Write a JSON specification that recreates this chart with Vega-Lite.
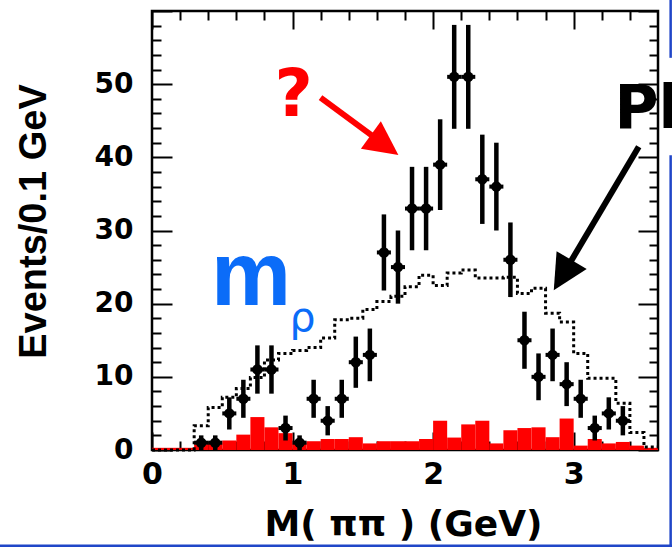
{
  "$schema": "https://vega.github.io/schema/vega-lite/v6.json",
  "width": 506,
  "height": 439,
  "autosize": {"type": "none"},
  "padding": {"left": 152, "top": 11, "right": 14, "bottom": 97},
  "background": "white",
  "config": {
    "view": {"stroke": "black", "strokeWidth": 2.5},
    "axis": {
      "domain": false,
      "grid": false,
      "tickColor": "black",
      "tickWidth": 2,
      "labelFont": "DejaVu Sans",
      "labelFontWeight": "bold",
      "labelColor": "black",
      "labelFlush": false,
      "labelOverlap": false
    }
  },
  "datasets": {
    "background": [
      {"lo": 0.0, "hi": 0.1, "bkg": 0.3}, {"lo": 0.1, "hi": 0.2, "bkg": 0.3},
      {"lo": 0.2, "hi": 0.3, "bkg": 0.3}, {"lo": 0.3, "hi": 0.4, "bkg": 0.8},
      {"lo": 0.4, "hi": 0.5, "bkg": 1.0}, {"lo": 0.5, "hi": 0.6, "bkg": 1.3},
      {"lo": 0.6, "hi": 0.7, "bkg": 2.1}, {"lo": 0.7, "hi": 0.8, "bkg": 4.5},
      {"lo": 0.8, "hi": 0.9, "bkg": 3.1}, {"lo": 0.9, "hi": 1.0, "bkg": 2.3},
      {"lo": 1.0, "hi": 1.1, "bkg": 1.0}, {"lo": 1.1, "hi": 1.2, "bkg": 1.2},
      {"lo": 1.2, "hi": 1.3, "bkg": 1.5}, {"lo": 1.3, "hi": 1.4, "bkg": 1.5},
      {"lo": 1.4, "hi": 1.5, "bkg": 1.75}, {"lo": 1.5, "hi": 1.6, "bkg": 0.9},
      {"lo": 1.6, "hi": 1.7, "bkg": 1.2}, {"lo": 1.7, "hi": 1.8, "bkg": 1.2},
      {"lo": 1.8, "hi": 1.9, "bkg": 1.2}, {"lo": 1.9, "hi": 2.0, "bkg": 1.5},
      {"lo": 2.0, "hi": 2.1, "bkg": 4.0}, {"lo": 2.1, "hi": 2.2, "bkg": 1.7},
      {"lo": 2.2, "hi": 2.3, "bkg": 3.5}, {"lo": 2.3, "hi": 2.4, "bkg": 4.0},
      {"lo": 2.4, "hi": 2.5, "bkg": 0.9}, {"lo": 2.5, "hi": 2.6, "bkg": 2.7},
      {"lo": 2.6, "hi": 2.7, "bkg": 3.0}, {"lo": 2.7, "hi": 2.8, "bkg": 3.1},
      {"lo": 2.8, "hi": 2.9, "bkg": 1.75}, {"lo": 2.9, "hi": 3.0, "bkg": 4.3},
      {"lo": 3.0, "hi": 3.1, "bkg": 0.6}, {"lo": 3.1, "hi": 3.2, "bkg": 1.5},
      {"lo": 3.2, "hi": 3.3, "bkg": 0.9}, {"lo": 3.3, "hi": 3.4, "bkg": 1.1},
      {"lo": 3.4, "hi": 3.5, "bkg": 0.6}, {"lo": 3.5, "hi": 3.6, "bkg": 0.3}
    ],
    "phasespace": [
      {"edge": 0.0, "mc": 0}, {"edge": 0.1, "mc": 0}, {"edge": 0.2, "mc": 0},
      {"edge": 0.3, "mc": 3.3}, {"edge": 0.4, "mc": 5.8}, {"edge": 0.5, "mc": 7.2},
      {"edge": 0.6, "mc": 8.4}, {"edge": 0.7, "mc": 9.9}, {"edge": 0.8, "mc": 12.3},
      {"edge": 0.9, "mc": 13.2}, {"edge": 1.0, "mc": 13.6}, {"edge": 1.1, "mc": 14.0},
      {"edge": 1.2, "mc": 15.3}, {"edge": 1.3, "mc": 17.8}, {"edge": 1.4, "mc": 18.0},
      {"edge": 1.5, "mc": 19.2}, {"edge": 1.6, "mc": 20.3}, {"edge": 1.7, "mc": 21.0},
      {"edge": 1.8, "mc": 22.3}, {"edge": 1.9, "mc": 23.9}, {"edge": 2.0, "mc": 22.5},
      {"edge": 2.1, "mc": 24.2}, {"edge": 2.2, "mc": 24.6}, {"edge": 2.3, "mc": 23.5},
      {"edge": 2.4, "mc": 23.5}, {"edge": 2.5, "mc": 23.6}, {"edge": 2.6, "mc": 21.4},
      {"edge": 2.7, "mc": 22.1}, {"edge": 2.8, "mc": 18.7}, {"edge": 2.9, "mc": 17.5},
      {"edge": 3.0, "mc": 13.2}, {"edge": 3.1, "mc": 9.8}, {"edge": 3.2, "mc": 9.8},
      {"edge": 3.3, "mc": 6.4}, {"edge": 3.4, "mc": 2.4}, {"edge": 3.5, "mc": 0.4},
      {"edge": 3.6, "mc": 0.4}
    ],
    "events": [
      {"m": 0.35, "lo": 0.3, "hi": 0.4, "n": 1, "ylo": 0, "yhi": 2},
      {"m": 0.45, "lo": 0.4, "hi": 0.5, "n": 1, "ylo": 0, "yhi": 2},
      {"m": 0.55, "lo": 0.5, "hi": 0.6, "n": 5, "ylo": 2.8, "yhi": 7.2},
      {"m": 0.65, "lo": 0.6, "hi": 0.7, "n": 7, "ylo": 4.4, "yhi": 9.6},
      {"m": 0.75, "lo": 0.7, "hi": 0.8, "n": 11, "ylo": 7.7, "yhi": 14.3},
      {"m": 0.85, "lo": 0.8, "hi": 0.9, "n": 11, "ylo": 7.7, "yhi": 14.3},
      {"m": 0.95, "lo": 0.9, "hi": 1.0, "n": 3, "ylo": 1.3, "yhi": 4.7},
      {"m": 1.05, "lo": 1.0, "hi": 1.1, "n": 1, "ylo": 0, "yhi": 2},
      {"m": 1.15, "lo": 1.1, "hi": 1.2, "n": 7, "ylo": 4.4, "yhi": 9.6},
      {"m": 1.25, "lo": 1.2, "hi": 1.3, "n": 4, "ylo": 2, "yhi": 6},
      {"m": 1.35, "lo": 1.3, "hi": 1.4, "n": 7, "ylo": 4.4, "yhi": 9.6},
      {"m": 1.45, "lo": 1.4, "hi": 1.5, "n": 12, "ylo": 8.5, "yhi": 15.5},
      {"m": 1.55, "lo": 1.5, "hi": 1.6, "n": 13, "ylo": 9.4, "yhi": 16.6},
      {"m": 1.65, "lo": 1.6, "hi": 1.7, "n": 27, "ylo": 21.8, "yhi": 32.2},
      {"m": 1.75, "lo": 1.7, "hi": 1.8, "n": 25, "ylo": 20, "yhi": 30},
      {"m": 1.85, "lo": 1.8, "hi": 1.9, "n": 33, "ylo": 27.3, "yhi": 38.7},
      {"m": 1.95, "lo": 1.9, "hi": 2.0, "n": 33, "ylo": 27.3, "yhi": 38.7},
      {"m": 2.05, "lo": 2.0, "hi": 2.1, "n": 39, "ylo": 32.8, "yhi": 45.2},
      {"m": 2.15, "lo": 2.1, "hi": 2.2, "n": 51, "ylo": 43.9, "yhi": 58.1},
      {"m": 2.25, "lo": 2.2, "hi": 2.3, "n": 51, "ylo": 43.9, "yhi": 58.1},
      {"m": 2.35, "lo": 2.3, "hi": 2.4, "n": 37, "ylo": 30.9, "yhi": 43.1},
      {"m": 2.45, "lo": 2.4, "hi": 2.5, "n": 36, "ylo": 30, "yhi": 42},
      {"m": 2.55, "lo": 2.5, "hi": 2.6, "n": 26, "ylo": 20.9, "yhi": 31.1},
      {"m": 2.65, "lo": 2.6, "hi": 2.7, "n": 15, "ylo": 11.1, "yhi": 18.9},
      {"m": 2.75, "lo": 2.7, "hi": 2.8, "n": 10, "ylo": 6.8, "yhi": 13.2},
      {"m": 2.85, "lo": 2.8, "hi": 2.9, "n": 13, "ylo": 9.4, "yhi": 16.6},
      {"m": 2.95, "lo": 2.9, "hi": 3.0, "n": 9, "ylo": 6, "yhi": 12},
      {"m": 3.05, "lo": 3.0, "hi": 3.1, "n": 7, "ylo": 4.4, "yhi": 9.6},
      {"m": 3.15, "lo": 3.1, "hi": 3.2, "n": 3, "ylo": 1.3, "yhi": 4.7},
      {"m": 3.25, "lo": 3.2, "hi": 3.3, "n": 5, "ylo": 2.8, "yhi": 7.2},
      {"m": 3.35, "lo": 3.3, "hi": 3.4, "n": 4, "ylo": 2, "yhi": 6}
    ],
    "arrows": [
      {"name": "question", "x0": 1.199, "y0": 48.15, "xh": 1.655, "yh": 41.7},
      {"name": "phase space", "x0": 3.463, "y0": 41.44, "xh": 2.922, "yh": 23.9}
    ],
    "slide": [
      {"x0": -1.1, "y0": -13.1, "x1": 3.72, "y1": -13.1},
      {"x0": 3.69, "y0": 61.6, "x1": 3.69, "y1": 53.6},
      {"x0": 3.69, "y0": 40.3, "x1": 3.69, "y1": -13.1}
    ]
  },
  "resolve": {"axis": {"x": "independent", "y": "independent"}},
  "layer": [
    {
      "data": {"name": "background"},
      "mark": {"type": "rect", "color": "#ff0000"},
      "encoding": {
        "x": {
          "field": "lo", "type": "quantitative",
          "scale": {"domain": [0, 3.6], "nice": false, "zero": false},
          "axis": {
            "orient": "bottom", "values": [0, 1, 2, 3], "ticks": false,
            "labelPadding": 9, "labelFontSize": 30, "labelBaseline": "top",
            "title": "M( ππ ) (GeV)", "titleFont": "DejaVu Sans", "titleFontWeight": "bold",
            "titleFontSize": 36, "titleColor": "black", "titleX": 251, "titleY": 85,
            "titleBaseline": "alphabetic", "titleAlign": "center"
          }
        },
        "x2": {"field": "hi"},
        "y": {
          "field": "bkg", "type": "quantitative",
          "scale": {"domain": [0, 60], "nice": false},
          "axis": {
            "orient": "left", "values": [0, 10, 20, 30, 40, 50], "ticks": false,
            "labelPadding": 19, "labelFontSize": 28, "labelBaseline": "middle",
            "title": "Events/0.1 GeV", "titleFont": "Liberation Sans", "titleFontWeight": "bold",
            "titleFontSize": 38, "titleColor": "black", "titleAngle": 270,
            "titleX": -107, "titleY": 210, "titleBaseline": "alphabetic", "titleAlign": "center"
          }
        },
        "y2": {"datum": 0}
      }
    },
    {
      "data": {"name": "phasespace"},
      "mark": {"type": "line", "interpolate": "step-after", "color": "black", "strokeWidth": 3, "strokeDash": [3, 3]},
      "encoding": {
        "x": {
          "field": "edge", "type": "quantitative",
          "axis": {"orient": "bottom", "values": [0, 1, 2, 3], "tickSize": -18, "labels": false, "title": null}
        },
        "y": {
          "field": "mc", "type": "quantitative",
          "axis": {"orient": "left", "values": [0, 10, 20, 30, 40, 50, 60], "tickSize": -20, "labels": false, "title": null}
        }
      }
    },
    {
      "data": {"name": "events"},
      "mark": {"type": "rule", "color": "black", "strokeWidth": 4.5},
      "encoding": {
        "x": {
          "field": "m", "type": "quantitative",
          "axis": {"orient": "bottom", "values": [0.2, 0.4, 0.6, 0.8, 1.2, 1.4, 1.6, 1.8, 2.2, 2.4, 2.6, 2.8, 3.2, 3.4], "tickSize": -9, "labels": false, "title": null}
        },
        "y": {
          "field": "ylo", "type": "quantitative",
          "axis": {"orient": "left", "values": [2, 4, 6, 8, 12, 14, 16, 18, 22, 24, 26, 28, 32, 34, 36, 38, 42, 44, 46, 48, 52, 54, 56, 58], "tickSize": -9, "labels": false, "title": null}
        },
        "y2": {"field": "yhi"}
      }
    },
    {
      "data": {"name": "events"},
      "mark": {"type": "rule", "color": "black", "strokeWidth": 4},
      "encoding": {
        "x": {
          "field": "lo", "type": "quantitative",
          "axis": {"orient": "top", "values": [0, 1, 2, 3], "tickSize": -18, "labels": false, "title": null}
        },
        "x2": {"field": "hi"},
        "y": {
          "field": "n", "type": "quantitative",
          "axis": {"orient": "right", "values": [0, 10, 20, 30, 40, 50, 60], "tickSize": -20, "labels": false, "title": null}
        }
      }
    },
    {
      "data": {"name": "events"},
      "mark": {"type": "circle", "color": "black", "opacity": 1, "size": 110},
      "encoding": {
        "x": {
          "field": "m", "type": "quantitative",
          "axis": {"orient": "top", "values": [0.2, 0.4, 0.6, 0.8, 1.2, 1.4, 1.6, 1.8, 2.2, 2.4, 2.6, 2.8, 3.2, 3.4], "tickSize": -9, "labels": false, "title": null}
        },
        "y": {
          "field": "n", "type": "quantitative",
          "axis": {"orient": "right", "values": [2, 4, 6, 8, 12, 14, 16, 18, 22, 24, 26, 28, 32, 34, 36, 38, 42, 44, 46, 48, 52, 54, 56, 58], "tickSize": -9, "labels": false, "title": null}
        }
      }
    },
    {
      "data": {"name": "arrows"},
      "mark": {"type": "rule", "strokeWidth": 6},
      "encoding": {
        "x": {"field": "x0", "type": "quantitative", "axis": null},
        "y": {"field": "y0", "type": "quantitative", "axis": null},
        "x2": {"field": "xh"},
        "y2": {"field": "yh"},
        "color": {"field": "name", "type": "nominal", "scale": {"domain": ["question", "phase space"], "range": ["#ff0000", "#000000"]}, "legend": null}
      }
    },
    {
      "data": {"name": "arrows"},
      "transform": [{"filter": "datum.name === 'question'"}],
      "mark": {"type": "point", "shape": "M0,-1L1,1L-1,1Z", "filled": true, "opacity": 1, "color": "#ff0000", "size": 1156, "angle": 126},
      "encoding": {
        "x": {"field": "xh", "type": "quantitative", "axis": null},
        "y": {"field": "yh", "type": "quantitative", "axis": null}
      }
    },
    {
      "data": {"name": "arrows"},
      "transform": [{"filter": "datum.name === 'phase space'"}],
      "mark": {"type": "point", "shape": "M0,-1L1,1L-1,1Z", "filled": true, "opacity": 1, "color": "#000000", "size": 1225, "angle": 210.7},
      "encoding": {
        "x": {"field": "xh", "type": "quantitative", "axis": null},
        "y": {"field": "yh", "type": "quantitative", "axis": null}
      }
    },
    {
      "data": {"values": [{"x": 1.007, "y": 45.6, "label": "?"}]},
      "mark": {"type": "text", "font": "DejaVu Sans", "fontWeight": "bold", "fontSize": 66, "color": "#ff0000", "align": "center", "baseline": "alphabetic"},
      "encoding": {
        "x": {"field": "x", "type": "quantitative", "axis": null},
        "y": {"field": "y", "type": "quantitative", "axis": null},
        "text": {"field": "label"}
      }
    },
    {
      "data": {"values": [{"x": 3.29, "y": 44.0, "label": "Ph"}]},
      "mark": {"type": "text", "font": "DejaVu Sans", "fontWeight": "bold", "fontSize": 60, "color": "#000000", "align": "left", "baseline": "alphabetic"},
      "encoding": {
        "x": {"field": "x", "type": "quantitative", "axis": null},
        "y": {"field": "y", "type": "quantitative", "axis": null},
        "text": {"field": "label"}
      }
    },
    {
      "data": {"values": [{"x": 0.42, "y": 19.8, "label": "m"}]},
      "mark": {"type": "text", "font": "Liberation Sans", "fontWeight": "bold", "fontSize": 90, "color": "#0b6cf8", "align": "left", "baseline": "alphabetic"},
      "encoding": {
        "x": {"field": "x", "type": "quantitative", "axis": null},
        "y": {"field": "y", "type": "quantitative", "axis": null},
        "text": {"field": "label"}
      }
    },
    {
      "data": {"values": [{"x": 0.979, "y": 16.3, "label": "ρ"}]},
      "mark": {"type": "text", "font": "DejaVu Sans", "fontSize": 41, "color": "#0b6cf8", "align": "left", "baseline": "alphabetic"},
      "encoding": {
        "x": {"field": "x", "type": "quantitative", "axis": null},
        "y": {"field": "y", "type": "quantitative", "axis": null},
        "text": {"field": "label"}
      }
    },
    {
      "data": {"name": "slide"},
      "mark": {"type": "rule", "color": "#2046c8", "strokeWidth": 2.5},
      "encoding": {
        "x": {"field": "x0", "type": "quantitative", "axis": null},
        "y": {"field": "y0", "type": "quantitative", "axis": null},
        "x2": {"field": "x1"},
        "y2": {"field": "y1"}
      }
    }
  ]
}
